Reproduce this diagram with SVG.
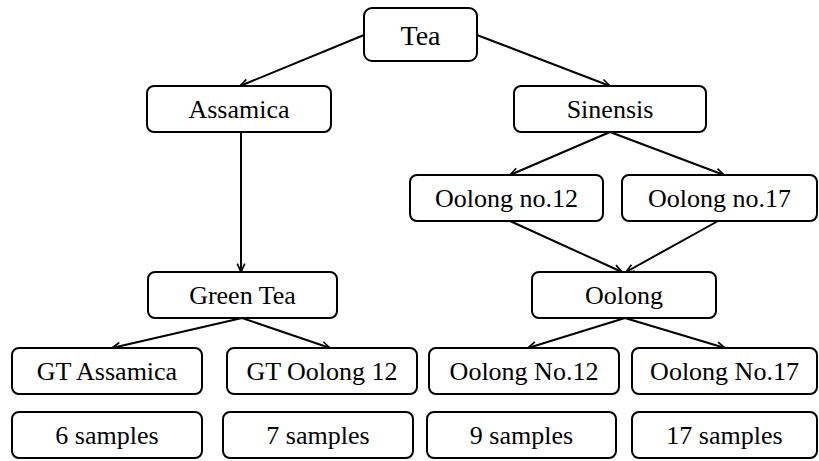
<svg xmlns="http://www.w3.org/2000/svg" width="819" height="461" viewBox="0 0 819 461">
<style>
.box{fill:#fff;stroke:#000;stroke-width:2}
.t{font-family:'Liberation Serif','DejaVu Serif',serif;font-size:26px;text-anchor:middle;fill:#000}
.c{stroke:#000;stroke-width:2;fill:none;marker-end:url(#ah)}
</style>
<defs>
<marker id="ah" viewBox="0 0 12 12" refX="11" refY="6" markerWidth="10" markerHeight="10" orient="auto" markerUnits="userSpaceOnUse">
<path d="M1,1.5 L11,6 L1,10.5" fill="none" stroke="#000" stroke-width="2"/>
</marker>
</defs>
<rect width="819" height="461" fill="#fff"/>
<g id="connectors">
<line class="c" x1="364" y1="35" x2="240" y2="86"/>
<line class="c" x1="477" y1="35" x2="610" y2="86"/>
<line class="c" x1="241" y1="132" x2="241" y2="272"/>
<line class="c" x1="610" y1="132" x2="510" y2="175"/>
<line class="c" x1="610" y1="132" x2="724" y2="175"/>
<line class="c" x1="510" y1="221" x2="622" y2="272"/>
<line class="c" x1="718" y1="221" x2="626" y2="272"/>
<line class="c" x1="242" y1="318" x2="112" y2="348"/>
<line class="c" x1="242" y1="318" x2="330" y2="348"/>
<line class="c" x1="625" y1="318" x2="528" y2="348"/>
<line class="c" x1="625" y1="318" x2="725" y2="348"/>
</g>
<g font-family="Liberation Serif, DejaVu Serif, serif">
<g id="tea"><rect class="box" x="364" y="8" width="113" height="53" rx="8"/><text class="t" x="420.5" y="45" font-family="Liberation Serif, serif" style="font-size:28px">Tea</text></g>
<g id="assamica"><rect class="box" x="147" y="86" width="184" height="46" rx="7"/><text class="t" x="239" y="118">Assamica</text></g>
<g id="sinensis"><rect class="box" x="514" y="86" width="192" height="46" rx="7"/><text class="t" x="610" y="118">Sinensis</text></g>
<g id="oolong12"><rect class="box" x="410" y="175" width="193" height="46" rx="7"/><text class="t" x="506.5" y="207">Oolong no.12</text></g>
<g id="oolong17"><rect class="box" x="622" y="175" width="195" height="46" rx="7"/><text class="t" x="719.5" y="207">Oolong no.17</text></g>
<g id="greentea"><rect class="box" x="148" y="272" width="189" height="46" rx="7"/><text class="t" x="242.5" y="304">Green Tea</text></g>
<g id="oolong"><rect class="box" x="532" y="272" width="184" height="46" rx="7"/><text class="t" x="624" y="304">Oolong</text></g>
<g id="gtassamica"><rect class="box" x="12" y="348" width="190" height="46" rx="7"/><text class="t" x="107" y="380">GT Assamica</text></g>
<g id="gtoolong12"><rect class="box" x="227" y="348" width="190" height="46" rx="7"/><text class="t" x="322" y="380">GT Oolong 12</text></g>
<g id="oolongNo12"><rect class="box" x="429" y="348" width="190" height="46" rx="7"/><text class="t" x="524" y="380">Oolong No.12</text></g>
<g id="oolongNo17"><rect class="box" x="632" y="348" width="185" height="46" rx="7"/><text class="t" x="724.5" y="380">Oolong No.17</text></g>
<g id="s6"><rect class="box" x="12" y="412" width="190" height="46" rx="7"/><text class="t" x="107" y="444">6 samples</text></g>
<g id="s7"><rect class="box" x="223" y="412" width="190" height="46" rx="7"/><text class="t" x="318" y="444">7 samples</text></g>
<g id="s9"><rect class="box" x="427" y="412" width="189" height="46" rx="7"/><text class="t" x="521.5" y="444">9 samples</text></g>
<g id="s17"><rect class="box" x="632" y="412" width="185" height="46" rx="7"/><text class="t" x="724.5" y="444">17 samples</text></g>
</g>
</svg>
